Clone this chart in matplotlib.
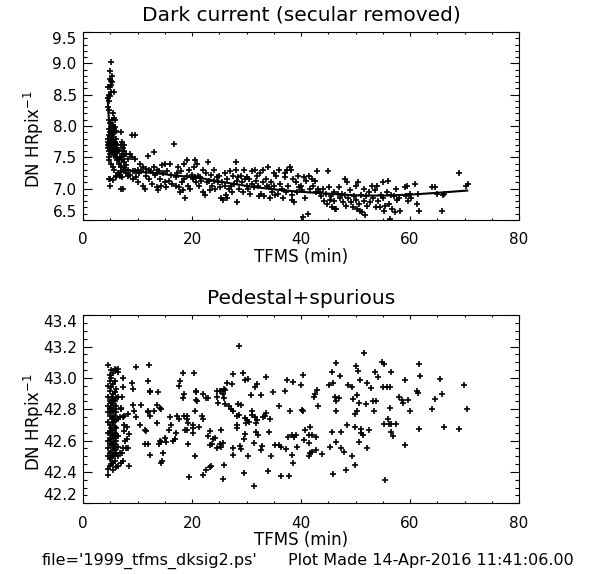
import numpy as np
import matplotlib
matplotlib.use('Agg')
import matplotlib.pyplot as plt
from matplotlib.ticker import MultipleLocator, FormatStrFormatter

plt.rc('font', family='DejaVu Sans')

# ---------------- Dark current (secular removed) ----------------
# TFMS (min) and DN/HRpix, column by column
dark_t = [4.55, 4.60, 4.58, 4.62, 4.57, 4.65, 4.60,
          4.75, 4.80, 4.78, 4.82, 4.76, 4.84, 4.79, 4.81, 4.77, 4.83, 4.80,
          4.95, 5.00, 4.98, 5.02, 4.96, 5.04, 4.99, 5.01, 4.97, 5.03, 5.00, 4.70, 4.90,
          5.20, 5.15, 5.22, 5.18, 5.24, 5.19, 5.21, 5.17, 5.23, 5.20, 5.16, 4.95,
          5.40, 5.35, 5.42, 5.38, 5.44, 5.39, 5.41, 5.37, 5.43, 5.40, 5.45, 5.50,
          5.60, 5.62, 5.58, 5.64, 5.59, 5.61, 5.57, 5.63, 5.60, 5.65,
          5.80, 5.82, 5.78, 5.84, 5.79, 5.81, 5.83,
          6.00, 6.02, 5.98, 6.04, 5.99, 6.01, 6.10, 6.05,
          6.30, 6.35, 6.28, 6.40,
          6.60, 6.65, 6.58, 6.70,
          6.90, 6.95, 6.88, 6.92, 6.98, 6.85, 7.00,
          7.20, 7.25, 7.18, 7.22, 7.28, 7.15, 7.30,
          7.50, 7.55, 7.48, 7.52, 7.58,
          7.80, 7.85, 7.78, 7.90,
          8.20, 8.30, 8.25, 8.60, 8.70,
          8.90, 9.50, 9.05, 9.10, 9.20,
          9.50, 9.60, 9.70, 10.0, 10.1, 10.3, 10.5, 10.7,
          11.0, 11.1, 11.3, 11.5, 11.6, 12.0, 12.1, 12.2, 12.5, 12.7,
          13.0, 13.1, 13.3, 13.5, 13.6, 13.8, 14.0, 14.1, 14.3, 14.5, 14.7,
          15.0, 15.1, 15.3, 15.5, 15.7, 16.0, 16.1, 16.3, 16.7,
          17.0, 17.1, 17.3, 17.5, 17.6, 17.8, 18.0, 18.2, 18.3, 18.5, 18.6, 18.8,
          19.0, 19.1, 19.3, 19.5, 19.7, 20.0, 20.1, 20.3, 20.5, 20.6, 20.8,
          21.0, 21.1, 21.3, 21.5, 21.7, 22.0, 22.1, 22.3, 22.5, 22.7,
          23.0, 23.1, 23.3, 23.5, 23.7, 24.0, 24.1, 24.3, 24.5, 24.7,
          25.0, 25.1, 25.3, 25.5, 25.7, 26.0, 26.1, 26.2, 26.4, 26.5, 26.7,
          27.0, 27.1, 27.3, 27.5, 27.7, 28.0, 28.1, 28.2, 28.3, 28.5, 28.7,
          29.0, 29.1, 29.3, 29.5, 29.7, 30.0, 30.1, 30.3, 30.5, 30.7,
          31.0, 31.1, 31.3, 31.5, 31.7, 32.0, 32.1, 32.3, 32.5, 32.7,
          33.0, 33.1, 33.3, 33.5, 33.7, 34.0, 34.1, 34.3, 34.5, 34.7,
          35.0, 35.1, 35.3, 35.5, 35.7, 36.0, 36.2, 36.5, 36.7,
          37.0, 37.1, 37.3, 37.5, 37.7, 38.0, 38.1, 38.3, 38.4, 38.5, 38.7,
          39.0, 39.2, 39.5, 39.7, 40.0, 40.1, 40.3, 40.5, 40.7,
          41.0, 41.2, 41.5, 41.7, 42.0, 42.2, 42.5, 42.7,
          43.0, 43.2, 43.5, 43.7, 44.0, 44.2, 44.5, 44.7,
          45.0, 45.1, 45.3, 45.5, 45.7, 46.0, 46.1, 46.3, 46.5, 46.7,
          47.0, 47.2, 47.5, 47.7, 48.0, 48.1, 48.3, 48.5, 48.7,
          49.0, 49.2, 49.5, 49.7, 50.0, 50.1, 50.3, 50.5, 50.6, 50.8,
          51.0, 51.2, 51.5, 51.6, 51.8, 52.0, 52.2, 52.5, 52.7,
          53.0, 53.2, 53.5, 53.7, 54.0, 54.2, 54.5, 54.7,
          55.0, 55.1, 55.3, 55.5, 55.7, 56.0, 56.1, 56.3, 56.5, 56.7,
          57.0, 57.2, 57.5, 57.7, 58.0, 58.2, 59.0, 59.2, 59.5, 59.7,
          60.0, 60.2, 61.0, 61.2, 61.5, 61.7,
          64.0, 64.6, 65.0, 66.0, 66.3, 65.8, 69.0, 70.3, 70.7]
dark_v = [8.62, 8.45, 8.30, 7.75, 7.70, 7.80, 7.65,
          8.50, 8.40, 8.25, 8.10, 7.95, 7.85, 7.72, 7.68, 7.60, 7.50, 7.45,
          8.88, 8.75, 8.62, 8.48, 8.05, 7.90, 7.82, 7.78, 7.74, 7.66, 7.55, 7.15, 7.15,
          9.02, 8.72, 8.65, 8.55, 8.00, 7.95, 7.88, 7.80, 7.70, 7.62, 7.40, 7.05,
          8.80, 8.70, 8.20, 8.10, 7.92, 7.85, 7.76, 7.72, 7.65, 7.58, 7.35, 7.14,
          8.55, 8.12, 8.02, 7.96, 7.82, 7.74, 7.68, 7.60, 7.52, 7.30,
          8.10, 7.98, 7.90, 7.75, 7.70, 7.62, 7.55,
          7.92, 7.80, 7.72, 7.65, 7.58, 7.50, 7.20, 7.18,
          7.70, 7.60, 7.45, 7.25,
          7.62, 7.48, 7.40, 7.22,
          7.90, 7.70, 7.50, 7.35, 7.28, 7.20, 7.00,
          7.75, 7.65, 7.55, 7.45, 7.30, 7.18, 7.00,
          7.70, 7.60, 7.52, 7.42, 7.35,
          7.55, 7.38, 7.30, 7.25,
          7.48, 7.30, 7.20, 7.55, 7.22,
          7.85, 7.85, 7.50, 7.28, 7.15,
          7.48, 7.28, 7.18, 7.30, 7.10, 7.25, 7.40, 7.28,
          7.35, 7.05, 7.00, 7.32, 7.20, 7.52, 7.30, 7.15, 7.28, 7.08,
          7.58, 7.35, 7.22, 7.30, 7.02, 6.98, 7.28, 7.15, 7.05, 7.38, 7.25,
          7.40, 7.10, 7.02, 7.28, 7.12, 7.40, 7.22, 7.08, 7.72,
          7.18, 7.05, 7.25, 7.35, 7.02, 6.95, 7.28, 7.10, 6.98, 7.40, 7.15, 6.85,
          7.45, 7.20, 7.05, 7.30, 7.00, 7.22, 7.15, 7.35, 7.45, 7.18, 7.10,
          7.40, 7.20, 7.05, 7.18, 7.12, 7.30, 6.95, 6.90, 7.25, 7.10,
          7.42, 7.12, 6.98, 7.22, 7.05, 7.30, 7.12, 7.00, 7.18, 7.10,
          7.20, 7.02, 6.85, 7.10, 6.82, 7.25, 7.05, 6.90, 6.85, 7.15, 7.00,
          7.28, 7.05, 6.95, 7.20, 7.08, 7.42, 7.30, 7.12, 6.78, 7.18, 7.00,
          7.20, 7.10, 6.95, 7.30, 7.15, 7.18, 7.05, 7.00, 7.15, 6.92,
          7.28, 7.08, 7.02, 7.30, 7.12, 7.20, 7.05, 6.88, 7.25, 6.92,
          7.30, 7.10, 6.88, 7.15, 7.05, 7.35, 7.02, 6.85, 7.10, 6.95,
          7.25, 7.05, 6.90, 7.20, 6.92, 7.30, 7.08, 7.00, 6.85,
          7.25, 7.18, 6.95, 7.30, 7.05, 7.35, 7.30, 6.90, 6.82, 7.15, 6.78,
          7.10, 6.95, 7.20, 7.02, 7.05, 6.98, 6.55, 7.18, 6.85,
          7.12, 6.60, 7.20, 7.00, 7.15, 7.05, 7.12, 6.95,
          7.28, 7.00, 6.95, 6.88, 7.00, 6.80, 6.92, 6.75,
          7.28, 7.02, 6.82, 6.88, 6.70, 6.95, 6.80, 6.68, 6.68, 6.92,
          7.02, 6.85, 6.92, 6.78, 7.15, 6.90, 6.72, 7.10, 6.85,
          6.98, 6.78, 6.70, 6.88, 7.05, 6.82, 6.68, 7.10, 6.75, 6.65,
          6.90, 6.62, 7.00, 6.80, 6.58, 6.88, 6.72, 6.95, 6.78,
          7.05, 6.85, 6.98, 6.70, 7.05, 6.80, 6.70, 6.90,
          7.10, 6.85, 6.65, 6.72, 6.95, 7.12, 6.75, 6.52, 6.90, 6.68,
          6.88, 6.62, 7.00, 6.82, 6.85, 6.65, 7.02, 6.88, 7.05, 6.80,
          6.92, 6.85, 7.08, 6.75, 6.92, 6.65,
          7.02, 7.02, 6.92, 6.90, 6.92, 6.65, 7.25, 7.05, 7.08]

# fitted trend line
fit_t = [4.5, 4.6, 4.8, 5.0, 5.3, 5.7, 6.2, 6.8, 7.5, 8.5, 10, 13, 17, 21.5,
         26, 31, 36, 40, 45, 51, 56, 61, 66, 70.5]
fit_v = [8.46, 8.30, 8.05, 7.92, 7.80, 7.68, 7.53, 7.40, 7.32, 7.29, 7.27, 7.25,
         7.21, 7.17, 7.10, 7.03, 6.98, 6.95, 6.92, 6.89, 6.89, 6.91, 6.94, 6.97]

# ---------------- Pedestal+spurious ----------------
ped_t = [4.60, 4.62, 4.58, 4.64, 4.59, 4.61, 4.57, 4.63, 4.60, 4.62, 4.58, 4.64,
         4.90, 4.92, 4.88, 4.94, 4.89, 4.91, 4.87, 4.93, 4.90, 4.92, 4.88, 4.94, 4.90,
         5.20, 5.22, 5.18, 5.24, 5.19, 5.21, 5.17, 5.23, 5.20, 5.22, 5.18, 5.24, 5.19, 5.21, 5.17,
         5.50, 5.52, 5.48, 5.54, 5.49, 5.51, 5.47, 5.53, 5.50, 5.52, 5.48, 5.54, 5.49, 5.51, 5.47,
         5.80, 5.82, 5.78, 5.84, 5.79, 5.81, 5.77, 5.83, 5.80, 5.82, 5.78, 5.84, 5.79, 5.81,
         6.10, 6.12, 6.08, 6.14, 6.09, 6.11, 6.07, 6.13, 6.10, 6.12, 6.08, 6.14,
         6.40, 6.50, 6.42, 6.38, 6.45, 6.40, 6.44, 6.46,
         7.4, 7.4, 7.2, 7.0, 6.9, 6.8, 7.4, 7.6, 8.3, 7.6, 8.1, 7.6, 7.7, 8.1, 8.5,
         7.4, 7.9, 8.3, 6.8, 7.2, 7.0, 7.4, 8.5, 9.7, 9.1, 8.9, 9.2, 9.4, 9.8, 10.6,
         10.5, 11.6, 11.4, 12.1, 12.0, 12.3, 12.3, 11.9, 12.0, 12.3, 11.4, 11.9, 12.3,
         13.1, 13.8, 13.6, 14.1, 14.4, 13.6, 14.0, 14.4, 14.2, 14.6, 14.5, 14.4, 15.0,
         15.3, 15.9, 16.2, 15.8, 16.6, 16.9, 17.1, 17.3, 17.7, 17.7, 17.8, 18.3, 18.6,
         18.4, 18.5, 19.1, 19.0, 19.3, 18.7, 19.0, 19.3, 20.2, 20.5, 20.8, 20.7, 20.4,
         20.8, 19.5, 20.5, 22.1, 22.5, 23.3, 23.4, 22.5, 22.9, 22.1, 21.8, 22.1, 20.2,
         20.2, 23.0, 23.3, 23.3, 23.6, 23.9, 24.2, 24.5, 25.1, 25.3, 24.6, 24.5, 25.1,
         24.7, 21.0, 21.3,
         28.6, 51.6, 54.8, 55.2, 46.4, 61.6, 50.1, 50.5, 45.7, 27.6, 29.4, 29.7, 30.3,
         33.6, 40.4, 47.2, 53.6, 54.2, 56.6, 61.8, 65.5, 69.9, 59.1, 26.4, 27.3, 25.8,
         26.1, 25.6, 31.6, 31.9, 37.4, 38.6, 40.0, 45.2, 45.9, 48.7, 49.3, 50.8, 52.1,
         52.8, 55.1, 55.7, 56.4, 65.8, 61.35, 61.4, 37.1, 42.9, 42.6, 42.3, 34.9, 32.6,
         30.9, 46.2, 46.9, 46.5, 57.9, 58.5, 58.7, 59.7, 49.6, 50.2, 53.2, 53.8, 51.9,
         50.6, 36.0, 38.0, 40.1, 40.3, 43.2, 46.5, 49.9, 50.3, 53.4, 56.3, 60.0, 64.0,
         64.6, 70.4, 25.9, 26.1, 26.7, 27.1, 27.5, 28.5, 28.9, 28.7, 28.2, 29.7, 30.0,
         29.9, 30.5, 30.95, 31.1, 31.6, 31.9, 31.75, 33.1, 33.4, 34.3, 33.6, 28.2, 28.3,
         25.4, 25.6, 25.4, 25.9, 25.6, 27.6, 27.5, 28.8, 29.6, 29.8, 29.0, 30.2, 29.5,
         31.4, 31.3, 31.7, 32.2, 34.0, 32.7, 32.8, 34.1, 34.5, 35.2, 36.0, 36.3, 37.2,
         37.7, 38.3, 38.7, 39.1, 38.3, 38.6, 36.3, 37.8, 39.3, 40.8, 41.6, 40.5, 41.5,
         42.0, 41.4, 41.7, 42.1, 41.5, 42.8, 42.8, 43.8, 45.3, 45.7, 45.8, 46.5, 47.3,
         47.3, 47.8, 48.3, 48.5, 49.3, 49.9, 49.9, 50.7, 51.1, 51.1, 51.3, 52.1, 52.4,
         55.5, 55.3, 56.0, 56.2, 56.5, 56.8, 56.6, 57.4, 59.0, 61.7, 66.3, 68.9]
ped_v = [43.08, 42.95, 42.88, 42.82, 42.78, 42.72, 42.65, 42.60, 42.55, 42.50, 42.42, 42.38,
         43.02, 42.98, 42.92, 42.85, 42.80, 42.76, 42.70, 42.66, 42.62, 42.58, 42.52, 42.48, 42.44,
         43.05, 43.00, 42.94, 42.88, 42.84, 42.81, 42.78, 42.74, 42.68, 42.64, 42.61, 42.57, 42.53, 42.49, 42.45,
         43.03, 42.96, 42.90, 42.86, 42.83, 42.79, 42.75, 42.71, 42.67, 42.63, 42.59, 42.55, 42.50, 42.46, 42.41,
         43.06, 42.98, 42.91, 42.85, 42.80, 42.76, 42.72, 42.69, 42.65, 42.62, 42.58, 42.54, 42.51, 42.47,
         43.05, 42.93, 42.87, 42.82, 42.78, 42.73, 42.68, 42.64, 42.60, 42.56, 42.52, 42.43,
         43.06, 43.04, 42.88, 42.74, 42.63, 42.56, 42.50, 42.44,
         43.00, 42.94, 42.88, 42.81, 42.80, 42.75, 42.75, 42.76, 42.77, 42.70, 42.69, 42.66, 42.60, 42.61, 42.64,
         42.55, 42.55, 42.55, 42.52, 42.52, 42.46, 42.47, 42.44, 43.07, 42.93, 42.97, 42.83, 42.79, 42.75, 42.83,
         42.70, 42.66, 42.67, 43.08, 42.98, 42.92, 42.91, 42.79, 42.78, 42.76, 42.58, 42.58, 42.51,
         42.79, 42.91, 42.83, 42.81, 42.80, 42.71, 42.58, 42.59, 42.60, 42.52, 42.47, 42.46, 42.62,
         42.59, 42.75, 42.70, 42.67, 42.60, 42.61, 42.65, 42.76, 42.74, 42.95, 42.98, 43.03, 42.90,
         42.87, 42.76, 42.76, 42.74, 42.71, 42.67, 42.67, 42.58, 42.65, 42.79, 42.92, 42.91, 43.03,
         42.86, 42.37, 42.50, 42.38, 42.41, 42.43, 42.44, 42.87, 42.87, 42.90, 42.76, 42.74, 42.70,
         42.68, 42.63, 42.66, 42.57, 42.58, 42.61, 42.62, 42.92, 42.92, 42.92, 42.88, 42.55, 42.58,
         42.84, 42.85, 42.69,
         43.205, 43.158, 43.105, 43.088, 43.098, 43.09, 43.079, 43.045, 43.035, 43.024, 43.03, 42.988, 42.994,
         43.009, 43.016, 43.013, 43.037, 43.009, 43.035, 43.013, 42.996, 42.958, 42.99, 42.966, 42.962, 42.928,
         42.924, 42.896, 42.945, 42.962, 42.984, 42.977, 42.956, 42.954, 42.966, 42.956, 42.945, 42.984, 42.966,
         42.935, 42.945, 42.941, 42.945, 42.90, 42.92, 42.907, 42.918, 42.924, 42.898, 42.88, 42.913, 42.892,
         42.892, 42.877, 42.871, 42.85, 42.877, 42.86, 42.839, 42.86, 42.864, 42.892, 42.85, 42.856, 42.835,
         42.843, 42.818, 42.79, 42.796, 42.786, 42.822, 42.792, 42.771, 42.786, 42.792, 42.807, 42.79, 42.803,
         42.864, 42.80, 42.871, 42.835, 42.818, 42.80, 42.786, 42.835, 42.83, 42.764, 42.758, 42.743, 42.732,
         42.711, 42.722, 42.786, 42.764, 42.754, 42.732, 42.711, 42.75, 42.758, 42.741, 42.779, 42.70, 42.679,
         42.669, 42.588, 42.562, 42.445, 42.354, 42.552, 42.509, 42.567, 42.609, 42.641, 42.545, 42.499, 42.396,
         42.311, 42.588, 42.658, 42.637, 42.403, 42.541, 42.567, 42.654, 42.503, 42.573, 42.573, 42.558, 42.545,
         42.626, 42.637, 42.622, 42.637, 42.509, 42.456, 42.377, 42.377, 42.558, 42.669, 42.686, 42.605, 42.637,
         42.633, 42.584, 42.52, 42.53, 42.505, 42.626, 42.541, 42.513, 42.562, 42.658, 42.386, 42.594, 42.658,
         42.552, 42.53, 42.414, 42.70, 42.499, 42.684, 42.445, 42.594, 42.675, 42.647, 42.637, 42.556, 42.669,
         42.35, 42.707, 42.741, 42.707, 42.658, 42.63, 42.707, 42.707, 42.569, 42.675, 42.684, 42.675]

W, H = 602, 574
fig = plt.figure(figsize=(W / 100, H / 100), dpi=100)
ax1 = fig.add_axes([83 / W, 1 - 220 / H, 436 / W, 188 / H])
ax2 = fig.add_axes([83 / W, 1 - 503.3 / H, 436 / W, 188 / H])


def style(ax, yticks, yminor):
    ax.set_xlim(0, 80)
    ax.set_ylim(yticks[0], yticks[-1])
    ax.set_xticks([0, 20, 40, 60, 80])
    ax.xaxis.set_minor_locator(MultipleLocator(5))
    ax.set_yticks(yticks)
    ax.yaxis.set_minor_locator(MultipleLocator(yminor))
    ax.yaxis.set_major_formatter(FormatStrFormatter('%.1f'))
    ax.tick_params(which='both', direction='in', top=True, right=True,
                   width=0.8, labelsize=11)
    ax.tick_params(axis='x', which='major', length=2.8, pad=9)
    ax.tick_params(axis='x', which='minor', length=1.4)
    ax.tick_params(axis='y', which='major', length=6.3, pad=4.5)
    ax.tick_params(axis='y', which='minor', length=3.1)
    for s in ax.spines.values():
        s.set_linewidth(0.8)
    labs = ax.get_yticklabels()
    labs[0].set_va('bottom')
    labs[-1].set_va('top')
    ax.set_xlabel('TFMS (min)', fontsize=12, labelpad=0)
    ax.set_ylabel(r'DN HRpix$^{-1}$', fontsize=12)
    ax.yaxis.set_label_coords(-0.085, 0.43)


ax1.plot(dark_t, dark_v, '+', color='k', ms=4.5, mew=1.2)
ax1.plot(fit_t, fit_v, '-', color='k', lw=1.5)
style(ax1, list(np.arange(6.5, 9.51, 0.5)), 0.1)
ax1.set_title('Dark current (secular removed)', fontsize=14.5, pad=8)

ax2.plot(ped_t, ped_v, '+', color='k', ms=4.5, mew=1.2)
style(ax2, list(np.arange(42.2, 43.41, 0.2)), 0.05)
ax2.set_title('Pedestal+spurious', fontsize=14.5, pad=8)

fig.text(42 / W, 1 - 561 / H, "file='1999_tfms_dksig2.ps'", fontsize=11.5, va='center')
fig.text(288 / W, 1 - 561 / H, 'Plot Made 14-Apr-2016 11:41:06.00', fontsize=11.5, va='center')

fig.savefig('out.png', dpi=100)
